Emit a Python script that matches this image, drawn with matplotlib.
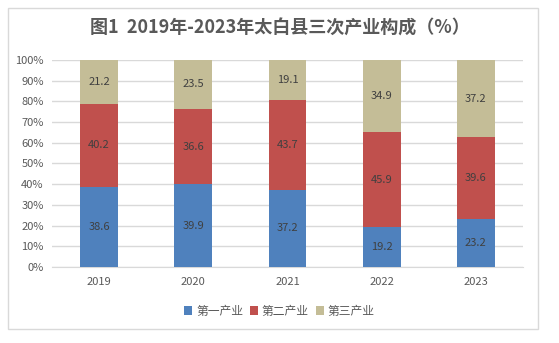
import matplotlib
matplotlib.use("Agg")
import matplotlib.pyplot as plt
from matplotlib.patches import Rectangle

plt.rcParams['font.family'] = ['Noto Sans CJK SC', 'DejaVu Sans']

years = ["2019", "2020", "2021", "2022", "2023"]
primary = [38.6, 39.9, 37.2, 19.2, 23.2]
secondary = [40.2, 36.6, 43.7, 45.9, 39.6]
tertiary = [21.2, 23.5, 19.1, 34.9, 37.2]
series_names = ["第一产业", "第二产业", "第三产业"]
colors = ["#4F81BD", "#C0504D", "#C4BD97"]
yticks = list(range(0, 101, 10))

fig = plt.figure(figsize=(5.59, 3.43), dpi=100)
fig.patches.append(Rectangle((8 / 559, 14 / 343), 530 / 559, 321 / 343,
                             transform=fig.transFigure, fill=False,
                             edgecolor="#D9D9D9", linewidth=1))

ax = fig.add_axes([52 / 559, 76 / 343, 471 / 559, 207 / 343])
x = range(len(years))
bottom = [0] * len(years)
for vals, name, c in zip([primary, secondary, tertiary], series_names, colors):
    bars = ax.bar(x, vals, width=0.4, bottom=bottom, color=c, label=name, zorder=3)
    for b, v in zip(bars, vals):
        ax.text(b.get_x() + b.get_width() / 2, b.get_y() + v / 2, f"{v:.1f}",
                ha="center", va="center", fontsize=8, color="#404040", zorder=4)
    bottom = [b0 + v for b0, v in zip(bottom, vals)]

ax.set_xlim(-0.5, len(years) - 0.5)
ax.set_ylim(0, 100)
ax.set_xticks(list(x))
ax.set_xticklabels(years)
ax.set_yticks(yticks)
ax.set_yticklabels([f"{t}%" for t in yticks])
ax.tick_params(axis="both", length=0, labelsize=8, colors="#595959")
ax.tick_params(axis="x", pad=7)
ax.tick_params(axis="y", pad=6)
ax.grid(axis="y", color="#D9D9D9", linewidth=1, zorder=0)
for s in ["left", "right", "top"]:
    ax.spines[s].set_visible(False)
ax.spines["bottom"].set_color("#D9D9D9")

fig.text(0.5, 1 - 28 / 343, "图1  2019年-2023年太白县三次产业构成（%）",
         ha="center", va="center", fontsize=13, fontweight="bold", color="#595959")

fig.legend(loc="center", bbox_to_anchor=(0.5, 1 - 311 / 343), ncol=3, frameon=False,
           fontsize=8.5, handlelength=0.7, handleheight=0.7, handletextpad=0.3,
           columnspacing=0.6, labelcolor="#595959")

fig.savefig("out.png", dpi=100)
